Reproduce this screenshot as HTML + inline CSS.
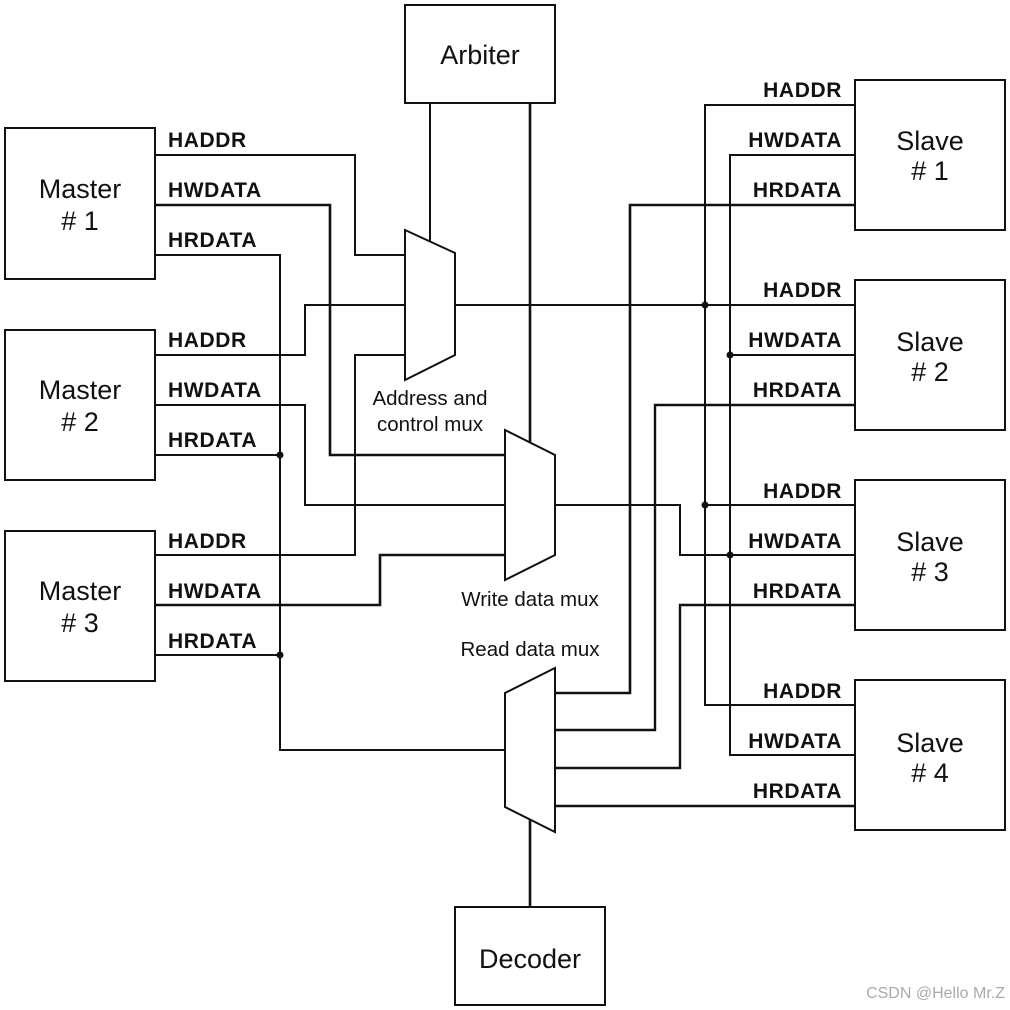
<!DOCTYPE html>
<html><head><style>body{margin:0;background:#fff}svg{display:block}</style></head><body>
<svg width="1010" height="1010" viewBox="0 0 1010 1010" xmlns="http://www.w3.org/2000/svg">
<g fill="none" stroke="#111" stroke-width="2">
<rect x="5" y="128" width="150" height="151"/>
<rect x="5" y="330" width="150" height="150"/>
<rect x="5" y="531" width="150" height="150"/>
<rect x="405" y="5" width="150" height="98"/>
<rect x="455" y="907" width="150" height="98"/>
<rect x="855" y="80" width="150" height="150"/>
<rect x="855" y="280" width="150" height="150"/>
<rect x="855" y="480" width="150" height="150"/>
<rect x="855" y="680" width="150" height="150"/>
<polygon points="405,230 455,253 455,355 405,380"/>
<polygon points="505,430 555,455 555,555 505,580"/>
<polygon points="505,693 555,668 555,832 505,807"/>
<polyline points="155,155 355,155 355,255 405,255"/>
<polyline points="155,205 330,205 330,455 505,455" stroke-width="2.6"/>
<polyline points="155,255 280,255 280,750 505,750"/>
<polyline points="155,355 305,355 305,305 405,305"/>
<polyline points="155,405 305,405 305,505 505,505"/>
<line x1="155" y1="455" x2="280" y2="455"/>
<polyline points="155,555 355,555 355,355 405,355"/>
<polyline points="155,605 380,605 380,555 505,555" stroke-width="2.6"/>
<line x1="155" y1="655" x2="280" y2="655"/>
<line x1="430" y1="103" x2="430" y2="241"/>
<line x1="530" y1="103" x2="530" y2="443" stroke-width="2.6"/>
<line x1="530" y1="820" x2="530" y2="907" stroke-width="2.6"/>
<line x1="455" y1="305" x2="855" y2="305"/>
<polyline points="555,505 680,505 680,555 855,555"/>
<polyline points="855,105 705,105 705,705 855,705"/>
<line x1="705" y1="505" x2="855" y2="505"/>
<polyline points="855,155 730,155 730,755 855,755"/>
<line x1="730" y1="355" x2="855" y2="355"/>
<polyline points="555,693 630,693 630,205 855,205" stroke-width="2.6"/>
<polyline points="555,730 655,730 655,405 855,405" stroke-width="2.4"/>
<polyline points="555,768 680,768 680,605 855,605" stroke-width="2.4"/>
<line x1="555" y1="806" x2="855" y2="806" stroke-width="2.4"/>
</g>
<g fill="#111">
<circle cx="280" cy="455" r="3.5"/><circle cx="280" cy="655" r="3.5"/>
<circle cx="705" cy="305" r="3.5"/><circle cx="705" cy="505" r="3.5"/>
<circle cx="730" cy="355" r="3.5"/><circle cx="730" cy="555" r="3.5"/>
</g>
<g font-family="Liberation Sans, Arial, sans-serif" font-weight="bold" font-size="21" letter-spacing="0.6" fill="#111">
<text x="168" y="147">HADDR</text><text x="168" y="197">HWDATA</text><text x="168" y="247">HRDATA</text>
<text x="168" y="347">HADDR</text><text x="168" y="397">HWDATA</text><text x="168" y="447">HRDATA</text>
<text x="168" y="548">HADDR</text><text x="168" y="598">HWDATA</text><text x="168" y="648">HRDATA</text>
<g text-anchor="end">
<text x="842" y="97">HADDR</text><text x="842" y="147">HWDATA</text><text x="842" y="197">HRDATA</text>
<text x="842" y="297">HADDR</text><text x="842" y="347">HWDATA</text><text x="842" y="397">HRDATA</text>
<text x="842" y="498">HADDR</text><text x="842" y="548">HWDATA</text><text x="842" y="598">HRDATA</text>
<text x="842" y="698">HADDR</text><text x="842" y="748">HWDATA</text><text x="842" y="798">HRDATA</text>
</g></g>
<g font-family="Liberation Sans, Arial, sans-serif" font-size="27" fill="#111" text-anchor="middle">
<text x="80" y="198">Master</text><text x="80" y="230">#  1</text>
<text x="80" y="399">Master</text><text x="80" y="431">#  2</text>
<text x="80" y="600">Master</text><text x="80" y="632">#  3</text>
<text x="480" y="64">Arbiter</text>
<text x="530" y="968">Decoder</text>
<text x="930" y="150">Slave</text><text x="930" y="180">#  1</text>
<text x="930" y="351">Slave</text><text x="930" y="381">#  2</text>
<text x="930" y="551">Slave</text><text x="930" y="581">#  3</text>
<text x="930" y="752">Slave</text><text x="930" y="782">#  4</text>
</g>
<g font-family="Liberation Sans, Arial, sans-serif" font-size="20.5" fill="#111" text-anchor="middle">
<text x="430" y="405">Address and</text><text x="430" y="431">control mux</text>
<text x="530" y="606">Write data mux</text>
<text x="530" y="656">Read data mux</text>
</g>
<text x="1005" y="998" text-anchor="end" font-family="Liberation Sans, Arial, sans-serif" font-size="16" fill="#aaa">CSDN @Hello Mr.Z</text>
</svg>
</body></html>
